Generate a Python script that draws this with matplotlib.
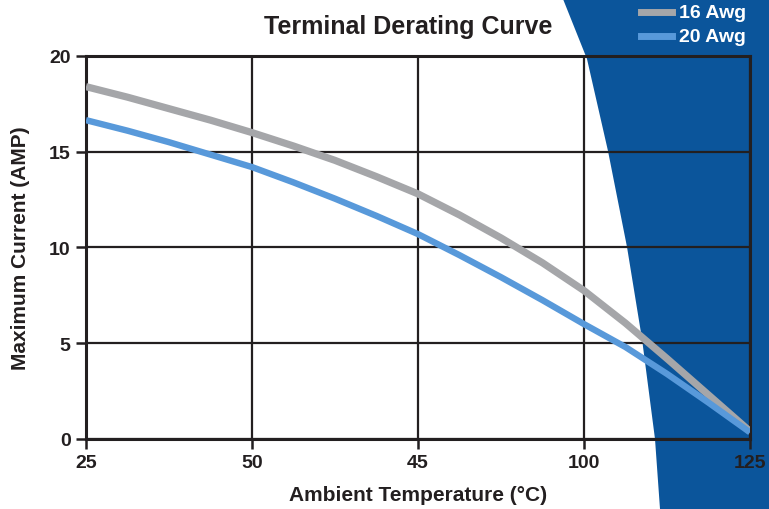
import numpy as np
import matplotlib
matplotlib.use('Agg')
import matplotlib.pyplot as plt
from matplotlib.patches import Polygon

# tick positions are evenly spaced, labels as printed on the original chart
tick_pos = [0, 1, 2, 3, 4]
tick_labels = ['25', '50', '45', '100', '125']

pos = [0, 0.25, 0.5, 0.75, 1, 1.25, 1.5, 1.75, 2, 2.25, 2.5, 2.75, 3, 3.25, 3.5, 3.75, 4]
awg16 = [18.4, 17.85, 17.25, 16.65, 16.0, 15.3, 14.55, 13.7, 12.8, 11.7, 10.5, 9.2, 7.75, 6.05, 4.2, 2.3, 0.4]
awg20 = [16.65, 16.1, 15.5, 14.85, 14.2, 13.4, 12.55, 11.65, 10.7, 9.6, 8.45, 7.25, 6.0, 4.8, 3.4, 1.9, 0.35]

FONT = ['Liberation Sans Narrow', 'Liberation Sans', 'DejaVu Sans']
INK = '#231f20'
BLUE_BG = '#0b559b'

fig = plt.figure(figsize=(7.69, 5.10), dpi=100)

# blue swoosh in the background (figure pixel coords -> fraction)
W, H = 769, 510
edge = [(563, 0), (587, 60), (608, 152), (627, 248), (642, 340), (655, 440), (660, 510)]
verts = [(x / W, 1 - y / H) for x, y in edge] + [(1, 0), (1, 1)]
fig.patches.append(Polygon(verts, closed=True, transform=fig.transFigure,
                           facecolor=BLUE_BG, edgecolor='none', zorder=-5))

ax = fig.add_axes([86 / W, 1 - 440 / H, (750 - 86) / W, (440 - 57) / H])
ax.set_facecolor('none')
ax.set_zorder(2)

ax.plot(pos, awg16, color='#a5a6a9', lw=5.2, solid_capstyle='butt',
        solid_joinstyle='round', zorder=3)
ax.plot(pos, awg20, color='#5899da', lw=4.6, solid_capstyle='butt',
        solid_joinstyle='round', zorder=3)

ax.set_xlim(0, 4)
ax.set_ylim(0, 20)
ax.set_xticks(tick_pos)
ax.set_xticklabels(tick_labels)
ax.set_yticks([0, 5, 10, 15, 20])
ax.grid(True, color=INK, lw=1.6)
ax.set_axisbelow(True)
for s in ax.spines.values():
    s.set_color(INK)
    s.set_linewidth(2.2)
ax.tick_params(direction='out', length=7, width=1.8, color=INK, pad=4)
for lab in ax.get_xticklabels() + ax.get_yticklabels():
    lab.set_family(FONT)
    lab.set_fontweight('bold')
    lab.set_fontsize(14)
    lab.set_color(INK)

ax.set_xlabel('Ambient Temperature (°C)', family=FONT, fontweight='bold',
              fontsize=15, color=INK, labelpad=10)
ax.set_ylabel('Maximum Current (AMP)', family=FONT, fontweight='bold',
              fontsize=15, color=INK, labelpad=14)
fig.text(408 / W, 1 - 27 / H, 'Terminal Derating Curve', family=FONT,
         fontweight='bold', fontsize=18, color=INK, ha='center', va='center')

# legend on the blue area
for i, (name, col) in enumerate([('16 Awg', '#a5a6a9'), ('20 Awg', '#5899da')]):
    yy = 1 - (13 + 24 * i) / H
    fig.add_artist(plt.Line2D([641 / W, 672 / W], [yy, yy], color=col, lw=5,
                              transform=fig.transFigure))
    fig.text(679 / W, yy, name, family=FONT, fontweight='bold', fontsize=14,
             color='white', ha='left', va='center')

fig.savefig('out.png', dpi=100)
